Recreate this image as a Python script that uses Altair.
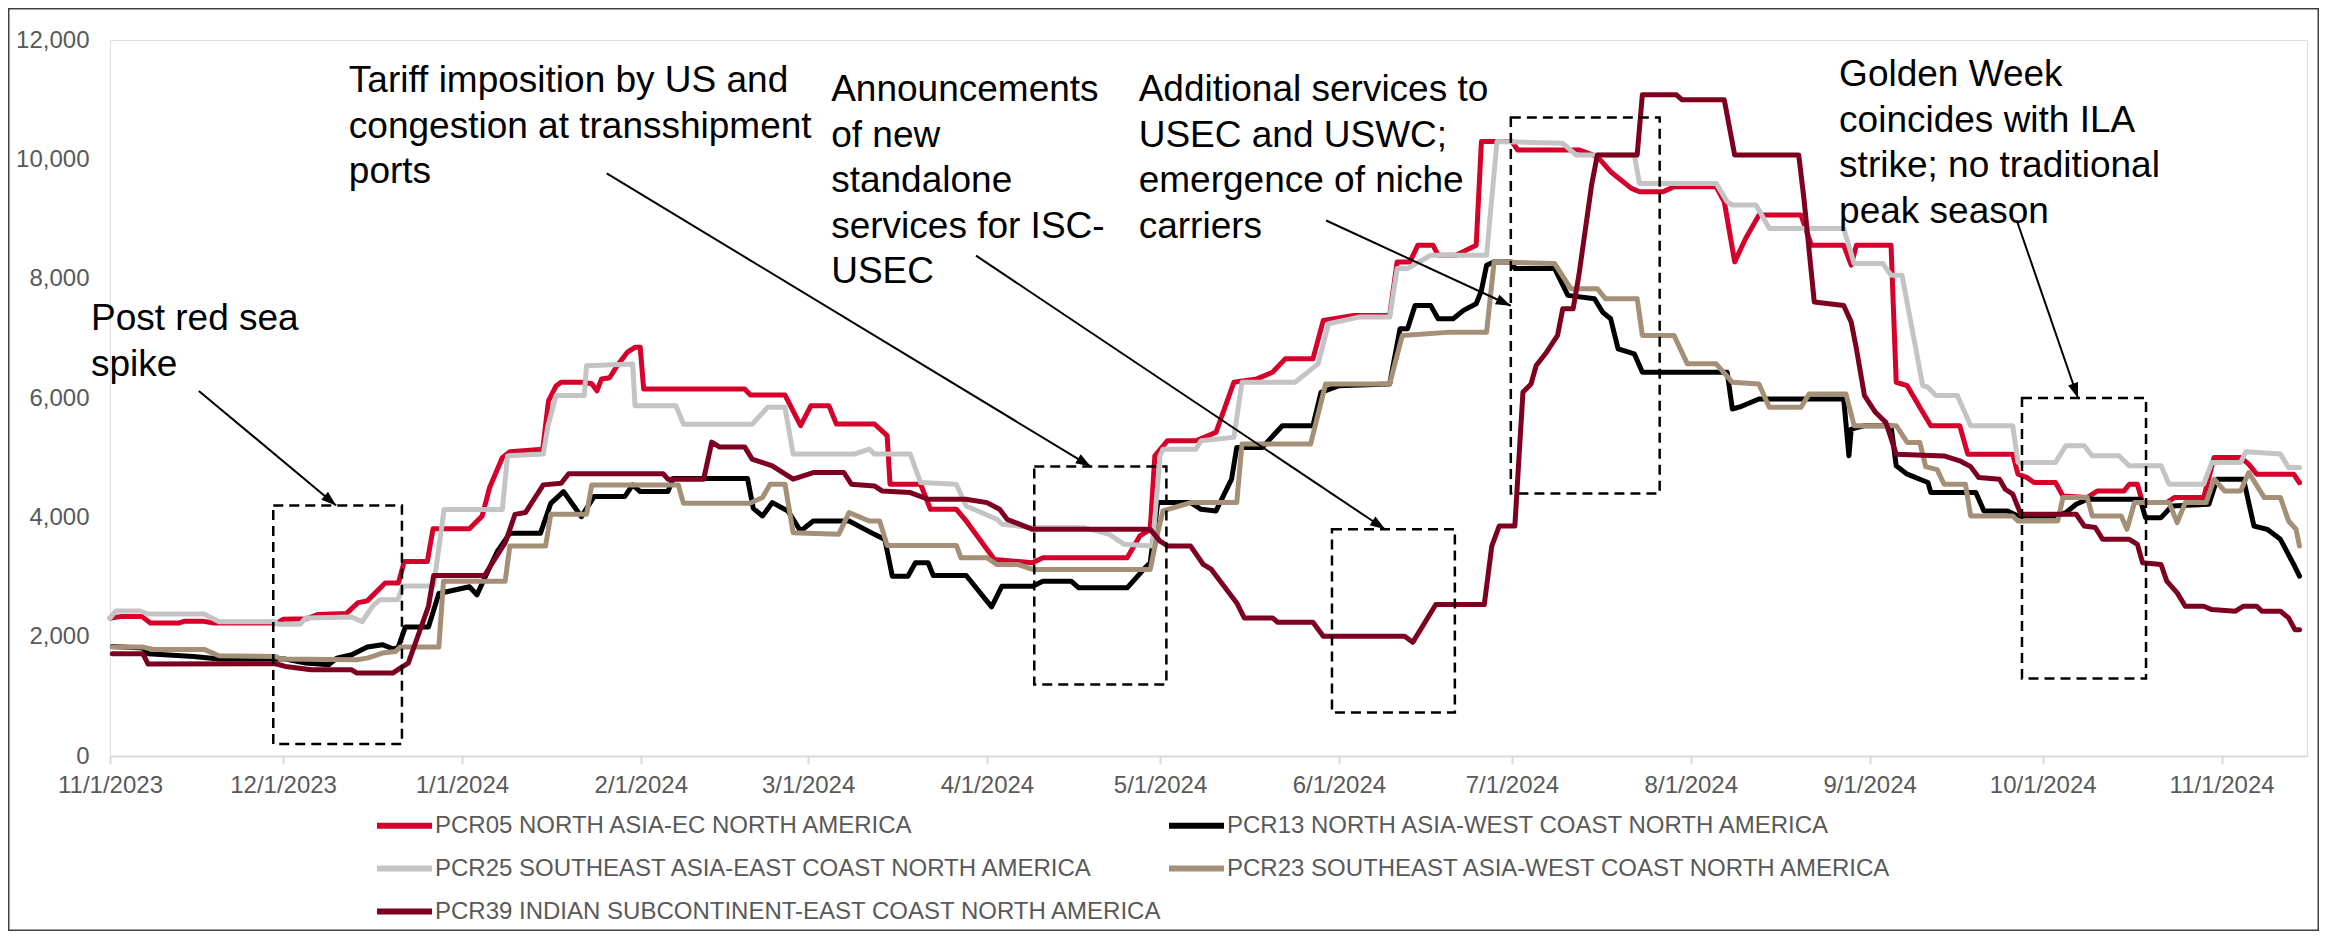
import math
import altair as alt
import pandas as pd

START = pd.Timestamp("2023-11-01")


def iso(day):
    return (START + pd.Timedelta(days=float(day))).strftime("%Y-%m-%dT%H:%M:%S")


series_names = [
    "PCR05 NORTH ASIA-EC NORTH AMERICA",
    "PCR13 NORTH ASIA-WEST COAST NORTH AMERICA",
    "PCR25 SOUTHEAST ASIA-EAST COAST NORTH AMERICA",
    "PCR23 SOUTHEAST ASIA-WEST COAST NORTH AMERICA",
    "PCR39 INDIAN SUBCONTINENT-EAST COAST NORTH AMERICA",
]
series_colors = ["#D6002B", "#000000", "#C4C4C4", "#A39077", "#7E0021"]
# legend is laid out column by column: col 1 = PCR05, PCR25, PCR39; col 2 = PCR13, PCR23
legend_order = [0, 2, 4, 1, 3]

# (days since 11/1/2023, rate)
pcr05 = [(0, 2310), (2, 2340), (5.5, 2340), (7, 2230), (12, 2230), (13, 2260), (16, 2260), (18, 2230), (29, 2230), (30, 2290),
         (34, 2300), (36, 2370), (41, 2390), (43, 2570), (44.6, 2600), (47.7, 2900), (50, 2900), (51, 3260), (55, 3260), (56, 3810),
         (62.3, 3810), (64.5, 4020), (65.8, 4500), (68, 5000), (69.3, 5100), (75, 5140), (76, 5950), (77.3, 6200), (78.2, 6265), (81.8, 6265),
         (83.5, 6240), (84.4, 6120), (85.2, 6320), (86.6, 6340), (87.9, 6540), (89.7, 6770), (91, 6850), (91.9, 6850), (92.5, 6150), (110, 6150),
         (111, 6050), (117, 6050), (119.7, 5536), (121.5, 5872), (124.6, 5872), (125.9, 5564), (132.5, 5564), (134.7, 5368), (135.2, 4555), (140.5, 4555),
         (142.2, 4135), (146.7, 4135), (148.4, 3939), (153.3, 3294), (159.9, 3238), (161.7, 3322), (176.3, 3322), (178.5, 3687), (180.3, 3799), (181.1, 5031),
         (183.3, 5284), (188.2, 5284), (191.7, 5423), (194.8, 6264), (198.8, 6320), (201.5, 6432), (203.7, 6656), (208.5, 6656), (210.3, 7300), (215.6, 7384),
         (221.8, 7384), (223.1, 8281), (225.3, 8281), (226.7, 8561), (229.3, 8561), (230.2, 8393), (233.3, 8393), (236.8, 8561), (237.7, 10297), (243, 10297),
         (244, 10157), (254.6, 10157), (257.8, 10045), (260.1, 9793), (263.7, 9513), (265.1, 9457), (269.2, 9457), (271.1, 9541), (278.4, 9541), (279.8, 9289),
         (281.6, 8281), (283.5, 8673), (285.8, 9065), (293.1, 9065), (294.9, 8561), (300.5, 8561), (301.8, 8225), (302.7, 8561), (308.7, 8561), (309.6, 6264),
         (311.5, 6207), (314.2, 5760), (315.6, 5536), (320.6, 5536), (322, 5059), (329.8, 5059), (330.7, 4723), (332.2, 4670), (333.5, 4583), (337.2, 4583),
         (338.5, 4359), (342.7, 4331), (344.5, 4443), (349.1, 4443), (350, 4555), (351.4, 4555), (352.3, 4247), (356.5, 4247), (357.8, 4331), (362.9, 4331),
         (364.7, 5003), (369.3, 5003), (370.7, 4891), (372.1, 4723), (378.5, 4723), (379.5, 4580)]

pcr13 = [(0.4, 1837), (5.7, 1810), (6.6, 1714), (14.5, 1669), (18.9, 1624), (30.4, 1624), (33.9, 1557), (37.9, 1529), (39.3, 1641), (41.9, 1697),
         (44.6, 1826), (47.2, 1866), (49, 1798), (49.9, 1810), (51.2, 2163), (55.2, 2163), (57, 2723), (62.3, 2836), (63.6, 2700), (64.9, 2976),
         (67.1, 3424), (69.3, 3732), (74.6, 3732), (76.4, 4235), (78.6, 4432), (81.7, 4012), (83.9, 4348), (89.2, 4348), (90.6, 4544), (91.9, 4432),
         (96.7, 4432), (97.6, 4650), (110.5, 4650), (111.5, 4150), (113.1, 4023), (114.8, 4247), (117.5, 4107), (119.7, 3770), (121.9, 3939), (128.1, 3939),
         (132.5, 3715), (134.3, 3630), (135.6, 3014), (138.3, 3014), (139.6, 3238), (141.8, 3238), (142.7, 3025), (148.4, 3025), (152.8, 2499), (154.6, 2846),
         (159.9, 2846), (161.7, 2930), (166.6, 2930), (167.9, 2818), (176.3, 2818), (179.4, 3154), (180.3, 3238), (181.6, 4247), (187.3, 4247), (189.1, 4135),
         (191.7, 4107), (194.4, 4639), (195.3, 5171), (199.7, 5171), (203.2, 5536), (208.5, 5536), (209.9, 6095), (213, 6207), (221.8, 6235), (223.6, 7160),
         (224.9, 7160), (226.2, 7552), (228.9, 7552), (230.2, 7328), (232.8, 7328), (234.6, 7468), (236.8, 7580), (237.7, 7800), (238.6, 8225), (239.9, 8281),
         (243, 8281), (243.5, 8169), (250.4, 8169), (252.7, 7720), (257.3, 7664), (258.7, 7440), (260.1, 7328), (261.4, 6824), (264.2, 6740), (265.6, 6432),
         (280.3, 6432), (281.2, 5816), (282.5, 5850), (285.8, 5984), (300.5, 5984), (301.4, 5031), (301.8, 5479), (304.1, 5536), (308.7, 5536), (309.6, 4863),
         (311.5, 4723), (315.1, 4583), (315.6, 4415), (323.4, 4415), (324.8, 4107), (328.9, 4107), (330.7, 4023), (337.2, 4023), (339, 4079), (340.8, 4219),
         (342.7, 4303), (351.9, 4303), (352.8, 3995), (355.5, 3995), (357.4, 4191), (363.8, 4219), (365.2, 4639), (369.8, 4639), (371.6, 3855), (373.9, 3799),
         (376.2, 3631), (378.5, 3210), (379.5, 3014)]

pcr25 = [(0, 2310), (1, 2430), (5.2, 2430), (6.6, 2380), (16.3, 2380), (18.9, 2250), (28.6, 2250), (29.1, 2210), (33, 2210), (33.9, 2314),
         (41.9, 2330), (43.7, 2250), (45.5, 2510), (46.8, 2620), (49.9, 2620), (50.8, 2850), (56.1, 2850), (57.9, 4130), (68, 4130), (68.9, 5030),
         (75.1, 5060), (75.9, 5530), (77.3, 6040), (82.2, 6040), (82.6, 6540), (90.6, 6570), (91, 5870), (98.1, 5870), (99.4, 5560), (111.3, 5560),
         (114, 5844), (117, 5844), (118.4, 5060), (129, 5060), (131.6, 5143), (132.5, 5060), (138.7, 5060), (140.5, 4583), (146.7, 4555), (148.4, 4190),
         (153.7, 3967), (154.6, 3883), (159.9, 3827), (168.8, 3827), (173.2, 3715), (175.8, 3547), (180.7, 3519), (182, 5031), (182.5, 5143), (188.2, 5143),
         (189.1, 5284), (194.8, 5340), (196.2, 6264), (205.4, 6264), (209.4, 6572), (211.2, 7244), (216.5, 7356), (221.8, 7356), (223.1, 8169), (224.9, 8169),
         (228.9, 8393), (238.6, 8393), (240.4, 10297), (251.8, 10269), (254.1, 10073), (264.2, 10073), (265.1, 9597), (278.4, 9597), (280.3, 9289), (281.2, 9233),
         (285.3, 9233), (287.6, 8841), (300.5, 8841), (302.3, 8253), (307.3, 8253), (308.7, 8057), (310.6, 8057), (314.2, 6207), (315.1, 6180), (316.5, 6040),
         (320.2, 6040), (322.5, 5536), (329.8, 5536), (330.7, 4919), (337.2, 4919), (339, 5200), (342.2, 5200), (343.6, 5031), (348.2, 5031), (350, 4863),
         (355.5, 4863), (356.9, 4555), (362.9, 4555), (364.3, 4919), (369.3, 4919), (370.2, 5100), (376.2, 5060), (377.6, 4835), (379.5, 4835)]

pcr23 = [(0.4, 1825), (5.7, 1825), (7.5, 1787), (16.3, 1787), (18.9, 1680), (28.7, 1669), (29.6, 1624), (42.8, 1613), (44.6, 1640), (47.2, 1726),
         (49.5, 1753), (50.3, 1826), (57, 1826), (57.8, 2930), (68.5, 2930), (69.3, 3518), (75.5, 3518), (76.4, 4050), (82.6, 4050), (83.5, 4544),
         (98.5, 4544), (99.4, 4235), (110.9, 4235), (113.1, 4331), (114.4, 4555), (117, 4555), (118.4, 3743), (126.3, 3715), (128.1, 4079), (131.6, 3939),
         (133.4, 3939), (134.7, 3530), (146.7, 3530), (147.5, 3322), (152, 3322), (153.7, 3210), (157.3, 3210), (159.9, 3126), (180.3, 3126), (181.6, 3743),
         (182.5, 4107), (187.3, 4247), (195.3, 4247), (196.2, 5227), (208.1, 5227), (210.7, 6235), (221.8, 6235), (224, 7048), (232.4, 7104), (238.6, 7104),
         (239.9, 8281), (250.4, 8253), (253.2, 7832), (257.8, 7832), (259.2, 7664), (264.7, 7664), (265.6, 7048), (271.1, 7048), (273.4, 6572), (278.4, 6572),
         (281.2, 6264), (285.8, 6235), (287.6, 5844), (293.1, 5844), (294.5, 6067), (300.9, 6067), (302.3, 5536), (309.6, 5536), (311.5, 5255), (313.7, 5255),
         (314.7, 4850), (316.7, 4800), (317.9, 4555), (321.6, 4555), (322.5, 4023), (329.8, 4023), (330.7, 3939), (337.6, 3939), (338.5, 4331), (342.7, 4331),
         (343.6, 4023), (348.6, 4023), (349.6, 3799), (350.9, 4247), (356.9, 4247), (358.3, 3911), (359.7, 4247), (363.3, 4247), (364.7, 4639), (366.5, 4443),
         (369.3, 4443), (370.7, 4751), (373.4, 4331), (376.2, 4331), (377.6, 3939), (378.9, 3800), (379.5, 3519)]

pcr39 = [(0.4, 1714), (5.7, 1714), (6.6, 1540), (28.7, 1546), (30.4, 1501), (34.9, 1445), (41.9, 1445), (42.8, 1389), (49, 1389), (50.3, 1473),
         (51.7, 1557), (55.2, 2510), (56.1, 3025), (64.9, 3025), (68.5, 3574), (70.2, 4050), (72, 4080), (75.1, 4544), (78.2, 4572), (79.5, 4730),
         (95.9, 4730), (96.7, 4640), (102.9, 4640), (104.3, 5260), (105.6, 5180), (110, 5180), (111.3, 4975), (114.8, 4863), (118.4, 4639), (121.9, 4751),
         (127.2, 4751), (128.5, 4555), (132.5, 4527), (133.8, 4443), (138.7, 4415), (141.8, 4303), (148.4, 4303), (152, 4247), (154.2, 4135), (155.5, 3967),
         (159.9, 3799), (180.3, 3799), (182, 3602), (183.4, 3518), (187.3, 3518), (189.5, 3210), (190.9, 3126), (195.3, 2566), (196.6, 2314), (201.5, 2314),
         (202.4, 2241), (208.5, 2241), (210.3, 2006), (224.4, 2006), (225.8, 1905), (229.8, 2538), (238.2, 2538), (239.5, 3518), (240.8, 3855), (243.5, 3855),
         (244.9, 6095), (246.3, 6235), (247.2, 6544), (249, 6768), (250.9, 7048), (251.8, 7496), (253.6, 7496), (254.6, 8057), (256.8, 9569), (257.8, 10073),
         (264.7, 10073), (265.6, 11081), (271.5, 11081), (272.5, 10997), (279.8, 10997), (281.6, 10073), (292.7, 10073), (293.6, 9345), (295.4, 7608), (300.5, 7550),
         (301.8, 7272), (302.7, 6824), (304.1, 6040), (306, 5760), (307.8, 5592), (309.6, 5059), (317.9, 5030), (320.6, 4947), (322.5, 4850), (323.9, 4667),
         (327.5, 4640), (328.5, 4471), (329.8, 4390), (331.2, 4051), (340.8, 4051), (342.2, 3855), (344.1, 3830), (345.4, 3631), (350, 3631), (351.4, 3547),
         (352.3, 3238), (355.5, 3210), (356.5, 2930), (358.3, 2734), (359.7, 2510), (362.9, 2510), (364.3, 2454), (368.4, 2426), (369.8, 2510), (372.1, 2510),
         (373, 2426), (376.2, 2426), (377.6, 2314), (378.7, 2118), (379.5, 2118)]

tick_months = [(2023, 11), (2023, 12), (2024, 1), (2024, 2), (2024, 3), (2024, 4), (2024, 5),
               (2024, 6), (2024, 7), (2024, 8), (2024, 9), (2024, 10), (2024, 11)]
y_ticks = [0, 2000, 4000, 6000, 8000, 10000, 12000]

# annotations (in data units)
note_text = [
    "Post red sea\nspike",
    "Tariff imposition by US and\ncongestion at transshipment\nports",
    "Announcements\nof new\nstandalone\nservices for ISC-\nUSEC",
    "Additional services to\nUSEC and USWC;\nemergence of niche\ncarriers",
    "Golden Week\ncoincides with ILA\nstrike; no traditional\npeak season",
]
note_day = [-3.3, 41.4, 125.0, 178.3, 299.7]
note_val = [7625, 11608, 11457, 11457, 11709]

box_day0 = [28.3, 160.2, 211.8, 242.8, 331.4]
box_day1 = [50.6, 183.1, 233.1, 268.6, 352.9]
box_top = [4200, 4850, 3800, 10700, 6000]
box_bot = [200, 1200, 730, 4400, 1300]

arrow_day0 = [15.4, 86.1, 150.1, 210.8, 330.5]
arrow_val0 = [6118, 9765, 8387, 8975, 8975]
arrow_day1 = [39.2, 170.0, 221.0, 242.8, 341.1]
arrow_val1 = [4200, 4850, 3800, 7546, 6000]

X_END_DAY = 380.8
W, H = 2197, 716
PAD = {"left": 102, "top": 32, "right": 12, "bottom": 175}
FONT = "Liberation Sans"
LABEL = "#595959"

rows = []
for name, pts in zip(series_names, [pcr05, pcr13, pcr25, pcr23, pcr39]):
    for d, v in pts:
        rows.append({"series": name, "date": iso(d), "value": v})
df = pd.DataFrame(rows)

x_scale = alt.Scale(domain=[alt.DateTime(year=2023, month=11, date=1),
                            alt.DateTime(year=2024, month=11, date=15, hours=19, minutes=12)])
y_scale = alt.Scale(domain=[0, 12000], nice=False)

x_axis = alt.Axis(values=[alt.DateTime(year=y, month=m, date=1) for y, m in tick_months],
                  format="%-m/%-d/%Y", formatType="time", labelFlush=False, labelOverlap=False,
                  title=None, grid=False, domainColor="#D9D9D9", domainWidth=2,
                  tickColor="#D9D9D9", tickWidth=2, tickSize=8, labelPadding=9,
                  labelFontSize=24, labelColor=LABEL, labelFont=FONT)
y_axis = alt.Axis(values=y_ticks, format=",d", title=None, grid=False, domain=False,
                  ticks=False, tickSize=0, labelPadding=21, labelFontSize=24,
                  labelColor=LABEL, labelFont=FONT)

color = alt.Color("series:N",
                  scale=alt.Scale(domain=[series_names[i] for i in legend_order],
                                  range=[series_colors[i] for i in legend_order]),
                  legend=alt.Legend(title=None, orient="none", legendX=264, legendY=755,
                                    columns=2, columnPadding=-6, rowPadding=0,
                                    symbolType="stroke", symbolSize=3025, symbolStrokeWidth=6,
                                    labelFontSize=24, labelColor=LABEL, labelFont=FONT,
                                    labelOffset=0, labelLimit=1000, padding=0))

layers = []
for name in series_names:
    layers.append(
        alt.Chart(df[df["series"] == name]).mark_line(strokeWidth=5, strokeCap="round", strokeJoin="round")
        .encode(x=alt.X("date:T", scale=x_scale, axis=x_axis),
                y=alt.Y("value:Q", scale=y_scale, axis=y_axis),
                color=color)
    )

box_df = pd.DataFrame({"date": [iso(d) for d in box_day0], "date2": [iso(d) for d in box_day1],
                       "value": box_top, "value2": box_bot})
boxes = alt.Chart(box_df).mark_rect(fillOpacity=0, stroke="black", strokeWidth=2.5, strokeDash=[10, 6]).encode(
    x=alt.X("date:T", scale=x_scale, axis=x_axis), x2="date2",
    y=alt.Y("value:Q", scale=y_scale, axis=y_axis), y2="value2")

arrow_df = pd.DataFrame({"date": [iso(d) for d in arrow_day0], "date2": [iso(d) for d in arrow_day1],
                         "value": arrow_val0, "value2": arrow_val1})
arrows = alt.Chart(arrow_df).mark_rule(stroke="black", strokeWidth=2).encode(
    x=alt.X("date:T", scale=x_scale, axis=x_axis), x2="date2",
    y=alt.Y("value:Q", scale=y_scale, axis=y_axis), y2="value2")

ppd = W / X_END_DAY
ppv = H / 12000.0
angles = [math.degrees(math.atan2((d1 - d0) * ppd, (v1 - v0) * ppv)) % 360
          for d0, v0, d1, v1 in zip(arrow_day0, arrow_val0, arrow_day1, arrow_val1)]
head_df = pd.DataFrame({"date": [iso(d) for d in arrow_day1], "value": arrow_val1, "angle": angles})
heads = alt.Chart(head_df).mark_point(shape="M0,0L-0.7,2L0.7,2Z", filled=True, color="black",
                                      size=225, opacity=1, strokeWidth=0).encode(
    x=alt.X("date:T", scale=x_scale, axis=x_axis),
    y=alt.Y("value:Q", scale=y_scale, axis=y_axis),
    angle=alt.Angle("angle:Q", scale=None))

note_df = pd.DataFrame({"date": [iso(d) for d in note_day], "value": note_val, "text": note_text})
notes = alt.Chart(note_df).mark_text(align="left", baseline="top", fontSize=37, font=FONT,
                                     lineHeight=45.5, lineBreak="\n", color="black").encode(
    x=alt.X("date:T", scale=x_scale, axis=x_axis),
    y=alt.Y("value:Q", scale=y_scale, axis=y_axis),
    text="text:N")

frame = alt.Chart(pd.DataFrame({"k": [0]})).mark_rect(fillOpacity=0, stroke="#404040", strokeWidth=1.5).encode(
    x=alt.value(-PAD["left"] + 0.75), x2=alt.value(W + PAD["right"] - 0.75),
    y=alt.value(-PAD["top"] + 0.75), y2=alt.value(H + PAD["bottom"] - 0.75))

chart = alt.layer(*layers, boxes, arrows, heads, notes, frame).properties(
    width=W, height=H, padding=PAD, autosize=alt.AutoSizeParams(type="none"),
    background="white"
).configure_view(strokeWidth=0).configure(font=FONT)

chart.save("out.html", embed_options={"renderer": "svg", "actions": False})
